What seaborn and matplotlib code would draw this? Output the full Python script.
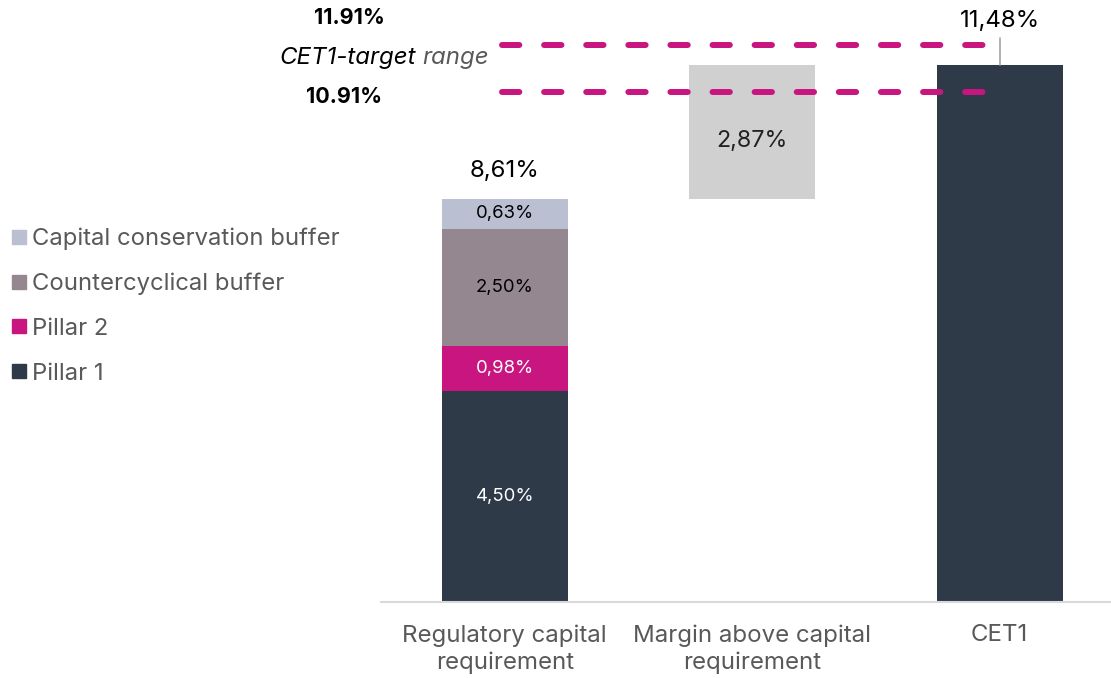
import matplotlib
matplotlib.use("Agg")
import matplotlib.pyplot as plt
from matplotlib.lines import Line2D
import seaborn as sns
import pandas as pd

# ---- data ----
categories = ["Regulatory capital\nrequirement", "Margin above capital\nrequirement", "CET1"]
segments = ["Pillar 1", "Pillar 2", "Countercyclical buffer", "Capital conservation buffer"]
segment_values = [4.50, 0.98, 2.50, 0.63]
segment_labels = ["4,50%", "0,98%", "2,50%", "0,63%"]
requirement_total = 8.61
requirement_label = "8,61%"
margin_value = 2.87
margin_label = "2,87%"
cet1_value = 11.48
cet1_label = "11,48%"
target_high = 11.91
target_low = 10.91
target_high_label = "11.91%"
target_low_label = "10.91%"

seg_colors = ["#2E3A48", "#C8157F", "#94878F", "#BAC0D2"]
seg_text_colors = ["white", "white", "black", "black"]
margin_color = "#D0D0D0"
magenta = "#C8157F"
gray_text = "#595959"

sns.set_theme(style="white")
plt.rcParams["font.family"] = ["Inter", "DejaVu Sans"]

W, H = 1111, 678
fig = plt.figure(figsize=(W / 100, H / 100), dpi=100)
ax = fig.add_axes([381 / W, (H - 602) / H, 730 / W, 602 / H])

bar_w = 0.51

# stacked bar via overlapping cumulative totals (largest first)
cum = []
s = 0
for v in segment_values:
    s += v
    cum.append(s)
for i in reversed(range(len(segments))):
    df = pd.DataFrame({"cat": [categories[0]], "val": [cum[i]]})
    sns.barplot(data=df, x="cat", y="val", order=categories, color=seg_colors[i],
                width=bar_w, ax=ax, saturation=1, linewidth=0, errorbar=None)

# CET1 bar
df_c = pd.DataFrame({"cat": [categories[2]], "val": [cet1_value]})
sns.barplot(data=df_c, x="cat", y="val", order=categories, color=seg_colors[0],
            width=bar_w, ax=ax, saturation=1, linewidth=0, errorbar=None)

# floating margin bar
ax.bar([1], [margin_value], bottom=[requirement_total], width=bar_w,
       color=margin_color, linewidth=0)

# segment labels
base = 0
for v, lab, tc in zip(segment_values, segment_labels, seg_text_colors):
    ax.text(0, base + v / 2, lab, ha="center", va="center", fontsize=13.3, color=tc)
    base += v
ax.text(0, requirement_total + 0.6, requirement_label, ha="center", va="center",
        fontsize=17.3, color="black")
ax.text(1, requirement_total + margin_value / 2 - 0.19, margin_label, ha="center",
        va="center", fontsize=16.8, color="#222222")
ax.text(2, cet1_value + 0.93, cet1_label, ha="center", va="center", fontsize=17.3,
        color="black")
ax.plot([2, 2], [cet1_value, cet1_value + 0.57], color="#A6A6A6", lw=1.2)

# target range lines
ax.plot([-0.012, 1.975], [target_high, target_high], color=magenta, lw=4.3,
        dashes=(2.9, 4.15), dash_capstyle="round", solid_capstyle="round", clip_on=False)
ax.plot([-0.012, 1.96], [target_low, target_low], color=magenta, lw=4.3,
        dashes=(2.9, 4.15), dash_capstyle="round", solid_capstyle="round", clip_on=False)

fig.text(349 / W, 1 - 18 / H, target_high_label, ha="center", va="center",
         fontsize=15.5, fontweight="bold", color="black")
fig.text(344 / W, 1 - 97 / H, target_low_label, ha="center", va="center",
         fontsize=15.5, fontweight="bold", color="black")
fig.text(279 / W, 1 - 58 / H, "CET1-target", ha="left", va="center",
         fontsize=17.3, fontstyle="italic", color="black")
fig.text(489 / W, 1 - 58 / H, "range", ha="right", va="center",
         fontsize=17.3, fontstyle="italic", color=gray_text)

# axes styling
ax.set_xlim(-0.5, 2.45)
ax.set_ylim(0, 602 / 46.78)
ax.set_xlabel("")
ax.set_ylabel("")
ax.set_yticks([])
for sp in ["left", "right", "top"]:
    ax.spines[sp].set_visible(False)
ax.spines["bottom"].set_color("#D9D9D9")
ax.spines["bottom"].set_linewidth(1.5)
ax.tick_params(axis="x", length=0, pad=16, labelsize=17.3, labelcolor=gray_text)
for t in ax.get_xticklabels():
    t.set_linespacing(1.28)

# legend (reverse order)
handles = [Line2D([], [], marker="s", linestyle="", markersize=9.5, color=seg_colors[i])
           for i in reversed(range(len(segments)))]
labels = [segments[i] for i in reversed(range(len(segments)))]
leg = fig.legend(handles, labels, loc="center left", bbox_to_anchor=(0.0, 1 - 306 / H),
                 frameon=False, fontsize=17.2, handlelength=0.6, handletextpad=0.22,
                 labelspacing=0.95, borderaxespad=0.1)
for t in leg.get_texts():
    t.set_color(gray_text)

fig.savefig("out.png", dpi=100)
